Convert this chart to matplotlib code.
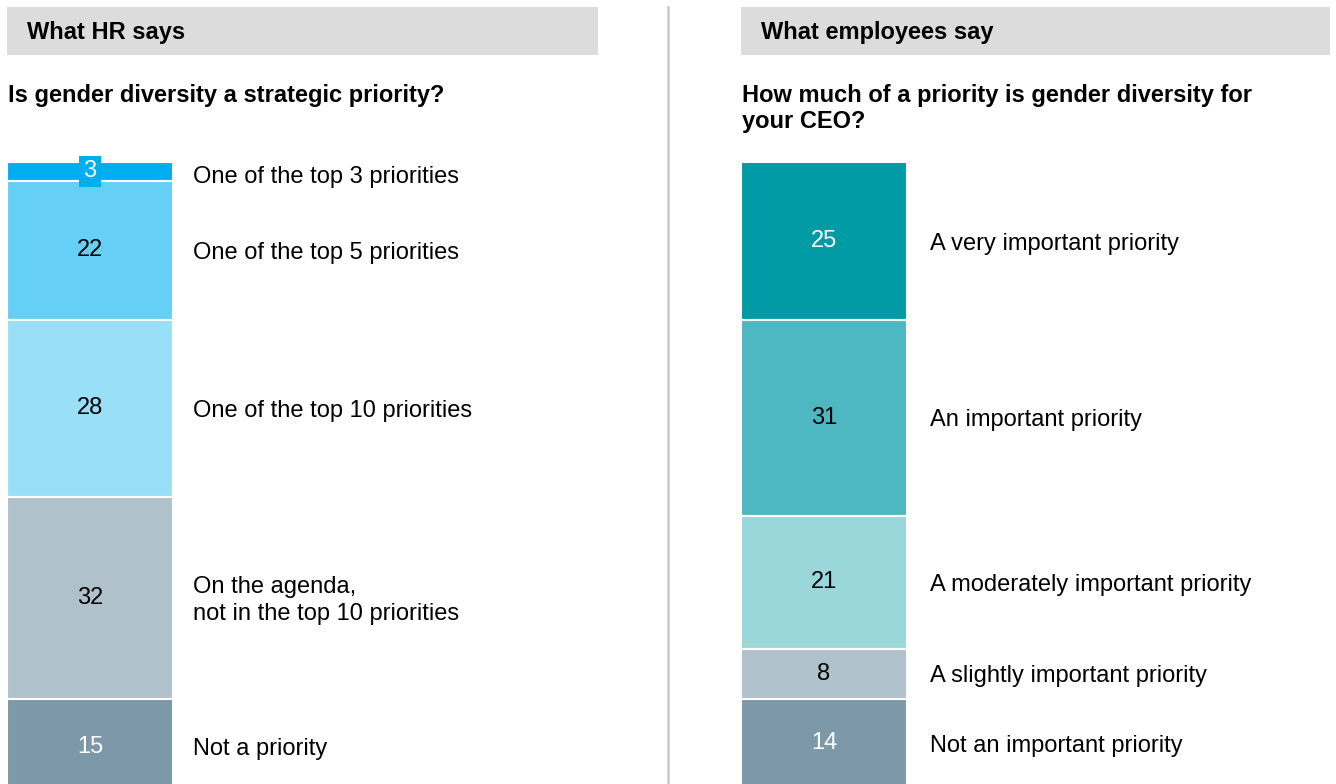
import numpy as np
import matplotlib
matplotlib.use('Agg')
import matplotlib.pyplot as plt
from matplotlib.patches import Rectangle
from matplotlib.lines import Line2D

plt.rcParams['font.family'] = ['Liberation Sans', 'DejaVu Sans']

# ------------------------------------------------------------------ #
# Data
# ------------------------------------------------------------------ #
hr_header   = 'What HR says'
hr_question = 'Is gender diversity a strategic priority?'
hr_labels   = ['One of the top 3 priorities', 'One of the top 5 priorities',
               'One of the top 10 priorities',
               'On the agenda,\nnot in the top 10 priorities', 'Not a priority']
hr_values   = [3, 22, 28, 32, 15]
hr_colors   = ['#00AEEF', '#66CFF5', '#99DFF8', '#B0C1CB', '#7C98A9']
hr_txtcol   = ['white', 'black', 'black', 'black', 'white']

emp_header   = 'What employees say'
emp_question = 'How much of a priority is gender diversity for\nyour CEO?'
emp_labels   = ['A very important priority', 'An important priority',
                'A moderately important priority', 'A slightly important priority',
                'Not an important priority']
emp_values   = [25, 31, 21, 8, 14]
emp_colors   = ['#009BA5', '#4DB8C1', '#99D7DB', '#B0C1CB', '#7C98A9']
emp_txtcol   = ['white', 'black', 'black', 'black', 'white']

# ------------------------------------------------------------------ #
# Layout (pixels of the 1336x784 canvas)
# ------------------------------------------------------------------ #
W, H = 1336, 784
PX_PER_UNIT = 6.32
BAR_TOP = 162
FS = 17

fig = plt.figure(figsize=(W / 100, H / 100), dpi=100)


def fx(px):
    return px / W


def fy(py):
    return 1 - py / H


def panel(x0, x1, bar_px, label_px, header, question, labels, values,
          colors, txtcol, small_box=False):
    # header band
    fig.add_artist(Rectangle((fx(x0), fy(55)), fx(x1 - x0), (55 - 7) / H,
                             transform=fig.transFigure, color='#DCDCDC', lw=0))
    fig.text(fx(x0 + 20), fy(32), header, fontsize=FS, fontweight='bold',
             va='center', ha='left')
    fig.text(fx(x0 + 1), fy(84), question, fontsize=FS, fontweight='bold',
             va='top', ha='left', linespacing=1.15)

    ax = fig.add_axes([fx(x0), 0, fx(x1 - x0), (H - BAR_TOP) / H])
    ax.set_xlim(0, x1 - x0)
    ax.set_ylim((H - BAR_TOP) / PX_PER_UNIT, 0)
    ax.axis('off')

    starts = np.concatenate([[0], np.cumsum(values)[:-1]])
    ax.bar(0, values, bottom=starts, width=bar_px, align='edge',
           color=colors, edgecolor='white', linewidth=1.5)

    for i, (s, v) in enumerate(zip(starts, values)):
        yc = s + v / 2
        kw = {}
        dy = 0.4
        if small_box and i == 0:
            kw['bbox'] = dict(boxstyle='square,pad=0.2', fc=colors[0], ec='none')
            dy = 0.8
        ax.text(bar_px / 2, yc, str(v), fontsize=FS, color=txtcol[i],
                ha='center', va='center', clip_on=False, **kw)
        ax.text(label_px, yc + dy, labels[i], fontsize=FS, ha='left',
                va='center', linespacing=1.3)


panel(7, 598, 166, 186, hr_header, hr_question, hr_labels, hr_values,
      hr_colors, hr_txtcol, small_box=True)
panel(741, 1330, 166, 189, emp_header, emp_question, emp_labels, emp_values,
      emp_colors, emp_txtcol)

# vertical divider
fig.add_artist(Line2D([fx(668), fx(668)], [0, fy(7)], transform=fig.transFigure,
                      color='#C8C8C8', linewidth=1.8))

plt.savefig('out.png', dpi=100)
plt.close()
